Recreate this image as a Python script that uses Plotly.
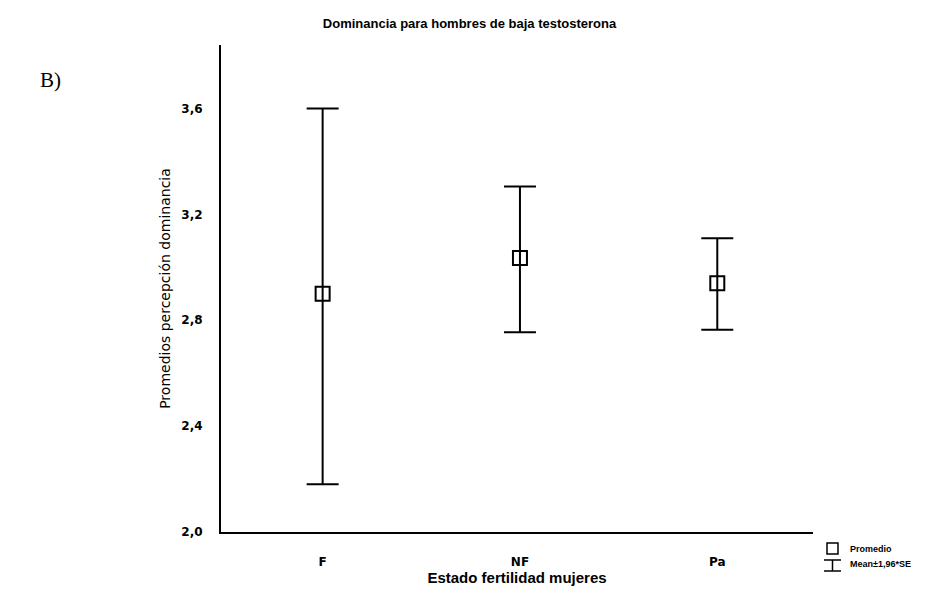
import plotly.graph_objects as go

categories = ["F", "NF", "Pa"]
means = [2.90, 3.035, 2.94]
upper = [3.60, 3.305, 3.11]
lower = [2.18, 2.755, 2.764]
ytick_vals = [2.0, 2.4, 2.8, 3.2, 3.6]
ytick_text = ["2,0", "2,4", "2,8", "3,2", "3,6"]

err_plus = [u - m for u, m in zip(upper, means)]
err_minus = [m - l for m, l in zip(means, lower)]

fig = go.Figure()
fig.add_trace(go.Scatter(
    x=list(range(len(categories))), y=means,
    mode="markers",
    marker=dict(symbol="square-open", size=14, color="black", line=dict(width=2, color="black")),
    error_y=dict(type="data", symmetric=False, array=err_plus, arrayminus=err_minus,
                 color="black", thickness=2, width=16),
    showlegend=False,
))

fig.update_layout(
    width=939, height=592,
    margin=dict(l=221, r=126, t=45, b=60),
    plot_bgcolor="white", paper_bgcolor="white",
    title=dict(text="<b>Dominancia para hombres de baja testosterona</b>",
               x=0.5, xanchor="center", y=1 - 23/592, yanchor="middle",
               font=dict(family="Liberation Sans", size=13, color="black")),
    xaxis=dict(range=[-0.515, 2.485], tickvals=list(range(len(categories))), ticktext=categories,
               showline=True, linecolor="black", linewidth=2, showgrid=False, zeroline=False,
               ticks="", ticklabelstandoff=18, automargin=False,
               tickfont=dict(family="DejaVu Sans", size=12, color="black", weight="bold"),
               title=dict(text="<b>Estado fertilidad mujeres</b>", standoff=4,
                          font=dict(family="Liberation Sans", size=15, color="black"))),
    yaxis=dict(range=[2.0, 3.84], tickvals=ytick_vals, ticktext=ytick_text,
               showline=True, linecolor="black", linewidth=2, showgrid=False, zeroline=False,
               ticks="", ticklabelstandoff=14, automargin=False,
               tickfont=dict(family="DejaVu Sans", size=12, color="black", weight="bold"),
               title=dict(text="Promedios percepción dominancia", standoff=7,
                          font=dict(family="DejaVu Sans", size=14, color="black"))),
)

px0 = 221; pw = 592; py0 = 532; ph = 487
def xp(px): return (px - px0) / pw
def yp(py): return (py0 - py) / ph

# "B)" panel label
fig.add_annotation(text="B)", xref="paper", yref="paper", x=xp(38), y=yp(80),
                   xanchor="left", yanchor="middle", showarrow=False,
                   font=dict(family="Liberation Serif", size=21, color="black"))

# legend glyphs (paper coordinates)
fig.add_shape(type="rect", xref="paper", yref="paper",
              x0=xp(827), x1=xp(838), y0=yp(554), y1=yp(543),
              line=dict(color="black", width=1.5), fillcolor="white")
fig.add_shape(type="line", xref="paper", yref="paper",
              x0=xp(824), x1=xp(841), y0=yp(560), y1=yp(560), line=dict(color="black", width=1.5))
fig.add_shape(type="line", xref="paper", yref="paper",
              x0=xp(832.5), x1=xp(832.5), y0=yp(560), y1=yp(571), line=dict(color="black", width=1.5))
fig.add_shape(type="line", xref="paper", yref="paper",
              x0=xp(824), x1=xp(841), y0=yp(571), y1=yp(571), line=dict(color="black", width=1.5))
fig.add_annotation(text="<b>Promedio</b>", xref="paper", yref="paper", x=xp(848), y=yp(549),
                   xanchor="left", yanchor="middle", showarrow=False,
                   font=dict(family="Liberation Sans", size=9, color="black"))
fig.add_annotation(text="<b>Mean±1,96*SE</b>", xref="paper", yref="paper", x=xp(848), y=yp(564),
                   xanchor="left", yanchor="middle", showarrow=False,
                   font=dict(family="Liberation Sans", size=9, color="black"))

fig.write_html("out.html")
